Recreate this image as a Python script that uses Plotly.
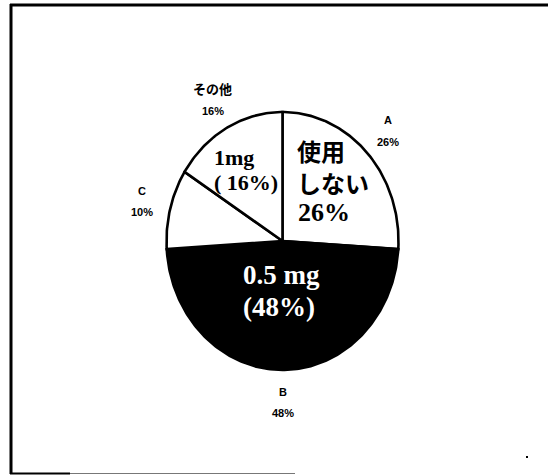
import numpy as np
import plotly.graph_objects as go

# Slice data (clockwise from 12 o'clock)
categories = ["A", "B", "C", "その他"]
shares = [26, 48, 10, 16]
fills = ["white", "black", "white", "white"]

W, H = 548, 476
CX, CY = 282.5, 241.0      # pie centre in pixels
RX, RY = 116.0, 129.0      # pixels per axis unit (x, y)


def paper(px, py):
    return px / W, 1 - py / H


fig = go.Figure()

total = sum(shares)
start = 0.0
mids = []
for cat, val, col in zip(categories, shares, fills):
    frac = val / total
    t = np.linspace(start, start + frac, max(int(frac * 360), 2) + 1) * 2 * np.pi
    xs = np.concatenate([[0], np.sin(t), [0]])
    ys = np.concatenate([[0], np.cos(t), [0]])
    fig.add_trace(go.Scatter(
        x=xs, y=ys, mode="lines", fill="toself", fillcolor=col,
        line=dict(color="black", width=2.6), hoverinfo="skip", showlegend=False,
    ))
    mids.append((start + frac / 2) * 2 * np.pi)
    start += frac

# Outside category / percent labels
LR = 1.25
for cat, val, m in zip(categories, shares, mids):
    lx, ly = LR * np.sin(m), LR * np.cos(m)
    size = 11 if cat.isascii() else 13
    fig.add_annotation(x=lx, y=ly + 0.08, text=f"<b>{cat}</b>", showarrow=False,
                       font=dict(family="Liberation Sans, Noto Sans CJK JP", size=size, color="black"),
                       xanchor="center", yanchor="middle")
    fig.add_annotation(x=lx, y=ly - 0.085, text=f"<b>{val}%</b>", showarrow=False,
                       font=dict(family="Liberation Sans Narrow, Liberation Sans", size=11, color="black"),
                       xanchor="center", yanchor="middle")

# In-slice text
def inner(text, px, py, size, family, color="black"):
    x, y = paper(px, py)
    fig.add_annotation(xref="paper", yref="paper", x=x, y=y, text=text,
                       showarrow=False, xanchor="left", yanchor="middle",
                       font=dict(family=family, size=size, color=color))

JP = "Noto Sans CJK JP"
SERIF = "Liberation Serif"
inner("<b>使用</b>", 295, 150, 24, JP)
inner("<b>しない</b>", 295, 183, 24, JP)
inner(f"<b>{shares[0]}%</b>", 296, 212, 26, SERIF)
inner("<b>1mg</b>", 212, 158, 22, SERIF)
inner(f"<b>( {shares[3]}%)</b>", 212, 182, 22, SERIF)
inner("<b>0.5 mg</b>", 241, 275, 27, SERIF, "white")
inner(f"<b>({shares[1]}%)</b>", 241, 307, 27, SERIF, "white")

# Frame around the chart area
shapes = []
def seg(x0, y0, x1, y1, width, color="black"):
    a, b = paper(x0, y0)
    c, d = paper(x1, y1)
    shapes.append(dict(type="line", xref="paper", yref="paper", x0=a, y0=b, x1=c, y1=d,
                       line=dict(color=color, width=width)))

seg(10, 5, 548, 5, 3)
seg(11, 4, 11, 474, 3)
seg(10, 473.5, 70, 473.5, 2)
seg(70, 473.5, 295, 473.5, 1.2, "#777777")
a, b = paper(526, 456)
c, d = paper(528, 458)
shapes.append(dict(type="rect", xref="paper", yref="paper", x0=a, y0=b, x1=c, y1=d,
                   fillcolor="black", line=dict(width=0)))

fig.update_layout(
    width=W, height=H,
    margin=dict(l=0, r=0, t=0, b=0),
    paper_bgcolor="white", plot_bgcolor="white",
    xaxis=dict(range=[-CX / RX, (W - CX) / RX], visible=False, fixedrange=True),
    yaxis=dict(range=[-(H - CY) / RY, CY / RY], visible=False, fixedrange=True),
    shapes=shapes,
    showlegend=False,
)

fig.write_html("out.html")
